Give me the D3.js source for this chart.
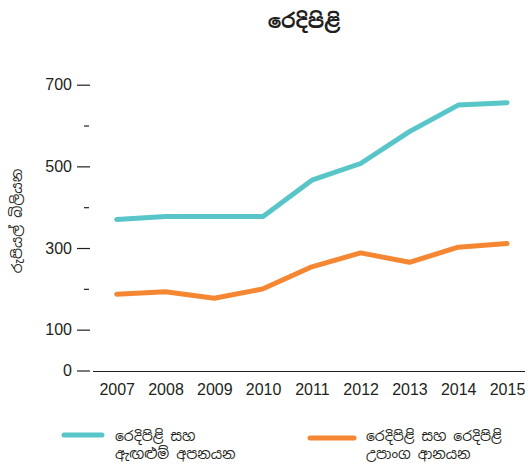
<!DOCTYPE html>
<html><head><meta charset="utf-8">
<script src="https://cdn.jsdelivr.net/npm/d3@7"></script>
<style>
body{margin:0;background:#fff;}
text{font-family:"Liberation Sans",Arial,sans-serif;fill:#231f20;}
.si{font-family:"Noto Sans Sinhala","Iskoola Pota","Noto Sans",sans-serif;}
</style></head>
<body><svg id="c" width="528" height="467"></svg>
<script>
const years = ["2007","2008","2009","2010","2011","2012","2013","2014","2015"];
const exportsVals = [370,377,377,377,466,507,585,650,656];
const importsVals = [187,193,177,200,254,288,265,302,311];
const majorTicks = [0,100,300,500,700];
const minorTicks = [200,400,600];
const title = "රෙදිපිළි";
const yTitle = "රුපියල් බිලියන";
const seriesNames = [["රෙදිපිළි සහ","ඇඟළුම් අපනයන"],["රෙදිපිළි සහ රෙදිපිළි","උපාංග ආනයන"]];
const colors = ["#58c6c9","#f58733"];

const svg = d3.select("#c");
const x = d3.scalePoint().domain(years).range([116.7,507]);
const y = d3.scaleLinear().domain([0,700]).range([370.5,84.7]);

svg.append("text").attr("class","si").attr("x",304).attr("y",28).attr("text-anchor","middle")
  .attr("font-size",20).attr("font-weight","bold").text(title);

// y axis major
const yAx = svg.append("g").attr("transform","translate(90,0)")
  .call(d3.axisLeft(y).tickValues(majorTicks).tickSize(13).tickPadding(5).tickFormat(d3.format("d")));
yAx.select(".domain").remove();
yAx.selectAll(".tick line").attr("stroke","#231f20").attr("stroke-width",1.2);
yAx.selectAll(".tick text").attr("font-size",16).attr("font-family","Liberation Sans, Arial, sans-serif").attr("fill","#231f20");
// minor
const yMin = svg.append("g").attr("transform","translate(89,0)")
  .call(d3.axisLeft(y).tickValues(minorTicks).tickSize(5).tickFormat(""));
yMin.select(".domain").remove();
yMin.selectAll(".tick line").attr("stroke","#231f20").attr("stroke-width",1.2);

// baseline
svg.append("line").attr("x1",93).attr("x2",525).attr("y1",y(0)+1).attr("y2",y(0)+1)
  .attr("stroke","#231f20").attr("stroke-width",1.2);

// x axis labels
const xAx = svg.append("g").attr("transform",`translate(0,${y(0)+1})`)
  .call(d3.axisBottom(x).tickSize(0).tickPadding(12));
xAx.select(".domain").remove();
xAx.selectAll(".tick text").attr("font-size",16).attr("font-family","Liberation Sans, Arial, sans-serif").attr("fill","#231f20");

svg.append("text").attr("class","si").attr("transform","translate(22,221) rotate(-90)")
  .attr("text-anchor","middle").attr("font-size",14).attr("fill","#555").text(yTitle);

const line = d3.line().x((d,i)=>x(years[i])).y(d=>y(d));
[exportsVals,importsVals].forEach((vals,k)=>{
  svg.append("path").datum(vals).attr("d",line).attr("fill","none")
    .attr("stroke",colors[k]).attr("stroke-width",5).attr("stroke-linecap","round").attr("stroke-linejoin","round");
});

// legend
const lg = [{x1:64,x2:102,ly:435,tx:115},{x1:310,x2:354,ly:438,tx:366}];
lg.forEach((l,k)=>{
  svg.append("line").attr("x1",l.x1).attr("x2",l.x2).attr("y1",l.ly).attr("y2",l.ly)
    .attr("stroke",colors[k]).attr("stroke-width",5).attr("stroke-linecap","round");
  seriesNames[k].forEach((t,j)=>{
    svg.append("text").attr("class","si").attr("x",l.tx).attr("y",441+j*18)
      .attr("font-size",14).text(t);
  });
});
</script></body></html>
